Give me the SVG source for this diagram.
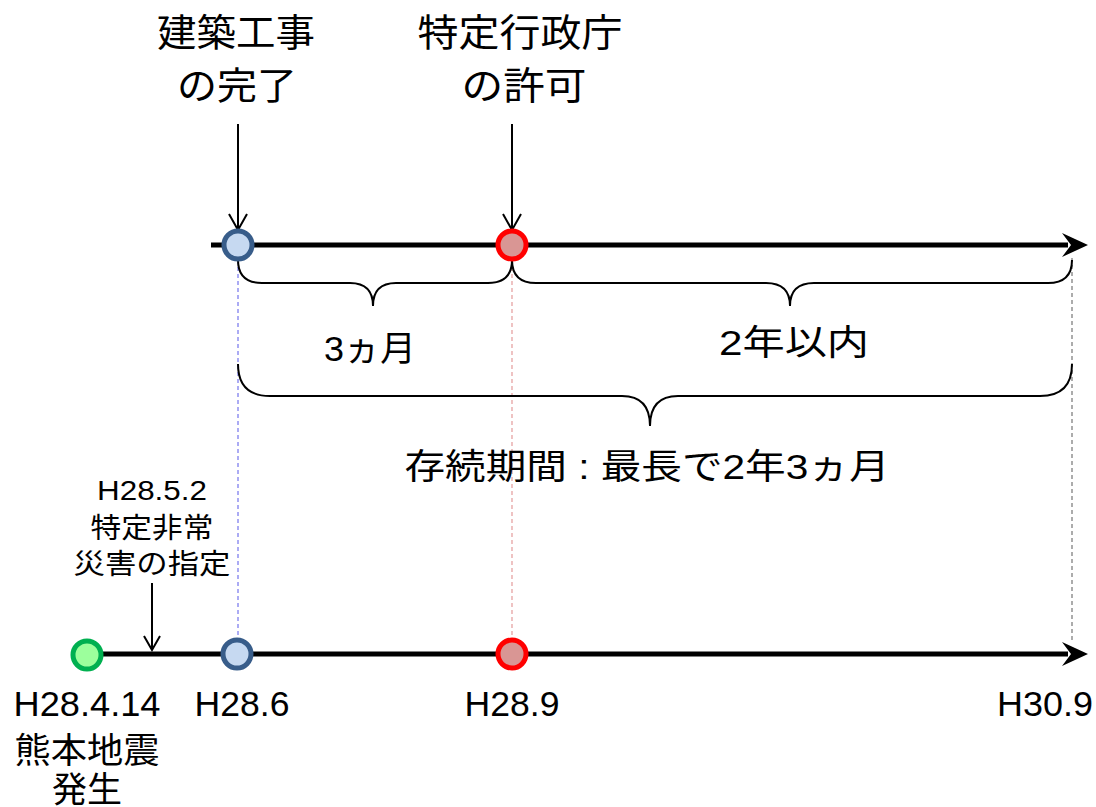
<svg xmlns="http://www.w3.org/2000/svg" width="1096" height="807" viewBox="0 0 1096 807">
<style>
text{font-family:"Liberation Sans","Noto Sans CJK JP",sans-serif;fill:#000;text-anchor:middle}
.big{font-size:38px}
.mid{font-size:35px}
.sm{font-size:28px}
.axis{stroke:#000;stroke-width:5;fill:none}
.brace{stroke:#000;stroke-width:2;fill:none}
.ptr{stroke:#000;stroke-width:2;fill:none}
.blue{fill:#C6D9F1;stroke:#385D8A;stroke-width:5}
.red{fill:#D99694;stroke:#FF0000;stroke-width:5}
.green{fill:#9CFF9C;stroke:#00B050;stroke-width:5}
</style>
<rect width="1096" height="807" fill="#fff"/>
<g id="connectors">
<line x1="238" y1="260" x2="238" y2="640" stroke="#7F7FEF" stroke-width="1.3" stroke-dasharray="4,3"/>
<line x1="512" y1="260" x2="512" y2="640" stroke="#E6A3A3" stroke-width="1.3" stroke-dasharray="4,3"/>
<line x1="1072" y1="258" x2="1072" y2="642" stroke="#808080" stroke-width="1.3" stroke-dasharray="4,3"/>
<line class="axis" x1="211" y1="245" x2="1068" y2="245"/>
<path d="M1088,245 L1062,233 L1071,245 L1062,257 Z" fill="#000"/>
<line class="axis" x1="87" y1="654" x2="1068" y2="654"/>
<path d="M1088,654 L1062,642 L1071,654 L1062,666 Z" fill="#000"/>
<path class="brace" d="M238,260 Q238,283 262,283 L350,283 Q373,283 373,306 Q373,283 396,283 L488,283 Q512,283 512,260"/>
<path class="brace" d="M512,260 Q512,283 536,283 L766,283 Q790,283 790,306 Q790,283 814,283 L1048,283 Q1072,283 1072,260"/>
<path class="brace" d="M238,364 Q238,396 270,396 L622,396 Q650,396 650,426 Q650,396 678,396 L1040,396 Q1072,396 1072,364"/>
<path class="ptr" d="M238,124 L238,230 M229,214 L238,230 L247,214"/>
<path class="ptr" d="M512,124 L512,230 M503,214 L512,230 L521,214"/>
<path class="ptr" d="M152,583 L152,650 M144,636 L152,650 L160,636"/>
</g>
<g id="n-start"><circle class="blue" cx="238" cy="245" r="14"/></g>
<g id="n-permit"><circle class="red" cx="512" cy="245" r="14"/></g>
<g id="n-eq"><circle class="green" cx="87" cy="655" r="14"/></g>
<g id="n-h286"><circle class="blue" cx="237" cy="654" r="14"/></g>
<g id="n-h289"><circle class="red" cx="512" cy="654" r="14"/></g>
<g id="label-complete"><text class="big" x="236" y="46" textLength="158" lengthAdjust="spacingAndGlyphs">建築工事</text><text class="big" x="237" y="99" textLength="120" lengthAdjust="spacingAndGlyphs">の完了</text></g>
<g id="label-permit"><text class="big" x="520" y="46" textLength="205" lengthAdjust="spacingAndGlyphs">特定行政庁</text><text class="big" x="524" y="99" textLength="125" lengthAdjust="spacingAndGlyphs">の許可</text></g>
<g id="label-3m"><text class="mid" x="370" y="361" textLength="92" lengthAdjust="spacingAndGlyphs">3ヵ月</text></g>
<g id="label-2y"><text class="mid" x="794" y="355" textLength="150" lengthAdjust="spacingAndGlyphs">2年以内</text></g>
<g id="label-period"><text class="mid" x="647" y="479" textLength="485" lengthAdjust="spacingAndGlyphs">存続期間 : 最長で2年3ヵ月</text></g>
<g id="label-disaster"><text class="sm" x="152" y="500" textLength="110" lengthAdjust="spacingAndGlyphs">H28.5.2</text><text class="sm" x="152" y="538" textLength="123" lengthAdjust="spacingAndGlyphs">特定非常</text><text class="sm" x="152" y="574" textLength="157" lengthAdjust="spacingAndGlyphs">災害の指定</text></g>
<g id="label-eq"><text class="mid" x="87" y="716" textLength="147" lengthAdjust="spacingAndGlyphs">H28.4.14</text><text class="mid" x="87" y="763" textLength="145" lengthAdjust="spacingAndGlyphs">熊本地震</text><text class="mid" x="87" y="802" textLength="70" lengthAdjust="spacingAndGlyphs">発生</text></g>
<g id="label-h286"><text class="mid" x="242" y="716" textLength="95" lengthAdjust="spacingAndGlyphs">H28.6</text></g>
<g id="label-h289"><text class="mid" x="512" y="716" textLength="95" lengthAdjust="spacingAndGlyphs">H28.9</text></g>
<g id="label-h309"><text class="mid" x="1045" y="716" textLength="96" lengthAdjust="spacingAndGlyphs">H30.9</text></g>
</svg>
